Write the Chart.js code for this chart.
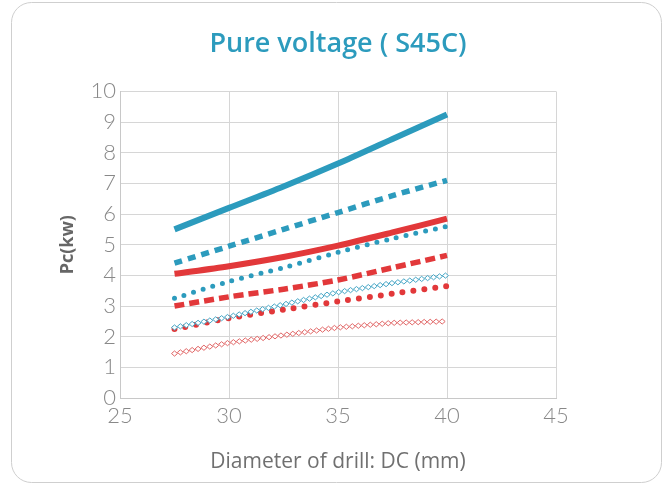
<!DOCTYPE html>
<html>
<head>
<meta charset="utf-8">
<script src="https://cdn.jsdelivr.net/npm/chart.js@4.4.0/dist/chart.umd.min.js"></script>
<style>
  body { margin: 0; background: #fff; }
  #wrap { width: 668px; height: 485px; }
</style>
</head>
<body>
<div id="wrap"><canvas id="myChart" width="668" height="485"></canvas></div>
<script>
// drill diameter DC (mm)
const diameters = [27.5, 30, 32.5, 35, 37.5, 40];

// Pc (kw) per curve
const blueSolid   = [5.5, 6.2, 6.9, 7.65, 8.45, 9.25];
const blueDashed  = [4.4, 4.95, 5.5, 6.05, 6.6, 7.1];
const redSolid    = [4.05, 4.3, 4.6, 4.97, 5.4, 5.85];
const blueDotted  = [3.25, 3.8, 4.25, 4.75, 5.2, 5.6];
const redDashed   = [3.0, 3.3, 3.55, 3.85, 4.25, 4.65];
const blueDiamond = [2.3, 2.65, 3.05, 3.45, 3.75, 4.0];
const redDotted   = [2.25, 2.6, 2.88, 3.15, 3.4, 3.65];
const redDiamond  = [1.45, 1.8, 2.05, 2.3, 2.45, 2.5];

const xTicks = [25, 30, 35, 40, 45];
const yTicks = [0, 1, 2, 3, 4, 5, 6, 7, 8, 9, 10];

const BLUE = '#2c9bbd';
const RED = '#e2383a';

const pts = arr => arr.map((v, i) => ({ x: diameters[i], y: v }));

// rounded frame around the whole chart
const frame = {
    id: 'frame',
    beforeDraw(chart) {
        const c = chart.ctx;
        c.save();
        c.fillStyle = '#fff';
        c.fillRect(0, 0, chart.width, chart.height);
        c.beginPath();
        c.roundRect(11.5, 2.5, 650, 480, 20);
        c.strokeStyle = '#cfcfcf';
        c.lineWidth = 1;
        c.stroke();
        c.restore();
    }
};

// hollow diamonds chained along the line of a dataset
const diamonds = {
    id: 'diamonds',
    afterDatasetsDraw(chart) {
        const c = chart.ctx;
        chart.data.datasets.forEach((ds, i) => {
            if (!ds.diamondColor) return;
            const p = chart.getDatasetMeta(i).data;
            const step = 6;
            c.save();
            c.strokeStyle = ds.diamondColor;
            c.fillStyle = '#fff';
            c.lineWidth = 1;
            let carry = 0;
            for (let k = 0; k < p.length - 1; k++) {
                const dx = p[k + 1].x - p[k].x, dy = p[k + 1].y - p[k].y;
                const len = Math.hypot(dx, dy);
                let d = carry;
                while (d <= len) {
                    const x = p[k].x + dx * d / len, y = p[k].y + dy * d / len;
                    c.beginPath();
                    c.moveTo(x - 3, y);
                    c.lineTo(x, y - 2.6);
                    c.lineTo(x + 3, y);
                    c.lineTo(x, y + 2.6);
                    c.closePath();
                    c.fill();
                    c.stroke();
                    d += step;
                }
                carry = d - len;
            }
            c.restore();
        });
    }
};

const lineSet = (data, color, width, dash, cap) => ({
    data: pts(data),
    borderColor: color,
    borderWidth: width,
    borderDash: dash,
    borderCapStyle: cap,
    pointRadius: 0,
    tension: 0.3,
    fill: false
});

const ctx = document.getElementById('myChart').getContext('2d');
const myChart = new Chart(ctx, {
    type: 'line',
    data: {
        datasets: [
            lineSet(blueSolid, BLUE, 6, [], 'butt'),
            lineSet(blueDashed, BLUE, 5.5, [8, 6], 'butt'),
            lineSet(redSolid, RED, 6, [], 'butt'),
            lineSet(blueDotted, BLUE, 5, [0, 10], 'round'),
            lineSet(redDashed, RED, 5.5, [10, 5], 'butt'),
            Object.assign(lineSet(blueDiamond, 'rgba(0,0,0,0)', 0, [], 'butt'), { diamondColor: '#45a6c6', tension: 0 }),
            lineSet(redDotted, RED, 6, [0, 11], 'round'),
            Object.assign(lineSet(redDiamond, 'rgba(0,0,0,0)', 0, [], 'butt'), { diamondColor: '#e26868', tension: 0 })
        ]
    },
    options: {
        responsive: false,
        animation: false,
        layout: { padding: { left: 12, right: 112, top: 0, bottom: 0 } },
        plugins: {
            legend: { display: false },
            tooltip: { enabled: false },
            title: {
                display: true,
                fullSize: false,
                text: 'Pure voltage ( S45C)',
                color: BLUE,
                font: { family: 'Open Sans', size: 27, weight: '600' },
                padding: { top: 28, bottom: 31 }
            }
        },
        scales: {
            x: {
                type: 'linear',
                min: 25,
                max: 45,
                afterBuildTicks: s => { s.ticks = xTicks.map(v => ({ value: v })); },
                afterFit: s => { s.height = 87; },
                ticks: { color: '#888', padding: 5, font: { family: 'Lato', size: 22, weight: '300' } },
                grid: { color: '#d6d6d6', drawTicks: false },
                border: { color: '#c8c8c8' },
                title: {
                    display: true,
                    text: 'Diameter of drill: DC (mm)',
                    color: '#707070',
                    font: { family: 'Open Sans', size: 21 },
                    padding: { top: 0, bottom: 10 }
                }
            },
            y: {
                min: 0,
                max: 10,
                afterBuildTicks: s => { s.ticks = yTicks.map(v => ({ value: v })); },
                afterFit: s => { s.width = 108; },
                ticks: { color: '#888', padding: 4, font: { family: 'Lato', size: 22, weight: '300' } },
                grid: { color: '#d6d6d6', drawTicks: false },
                border: { color: '#c8c8c8' },
                title: {
                    display: true,
                    text: 'Pc(kw)',
                    color: '#666',
                    font: { family: 'Open Sans', size: 18, weight: 'bold' },
                    padding: { top: 45, bottom: 0 }
                }
            }
        }
    },
    plugins: [frame, diamonds]
});
</script>
</body>
</html>
